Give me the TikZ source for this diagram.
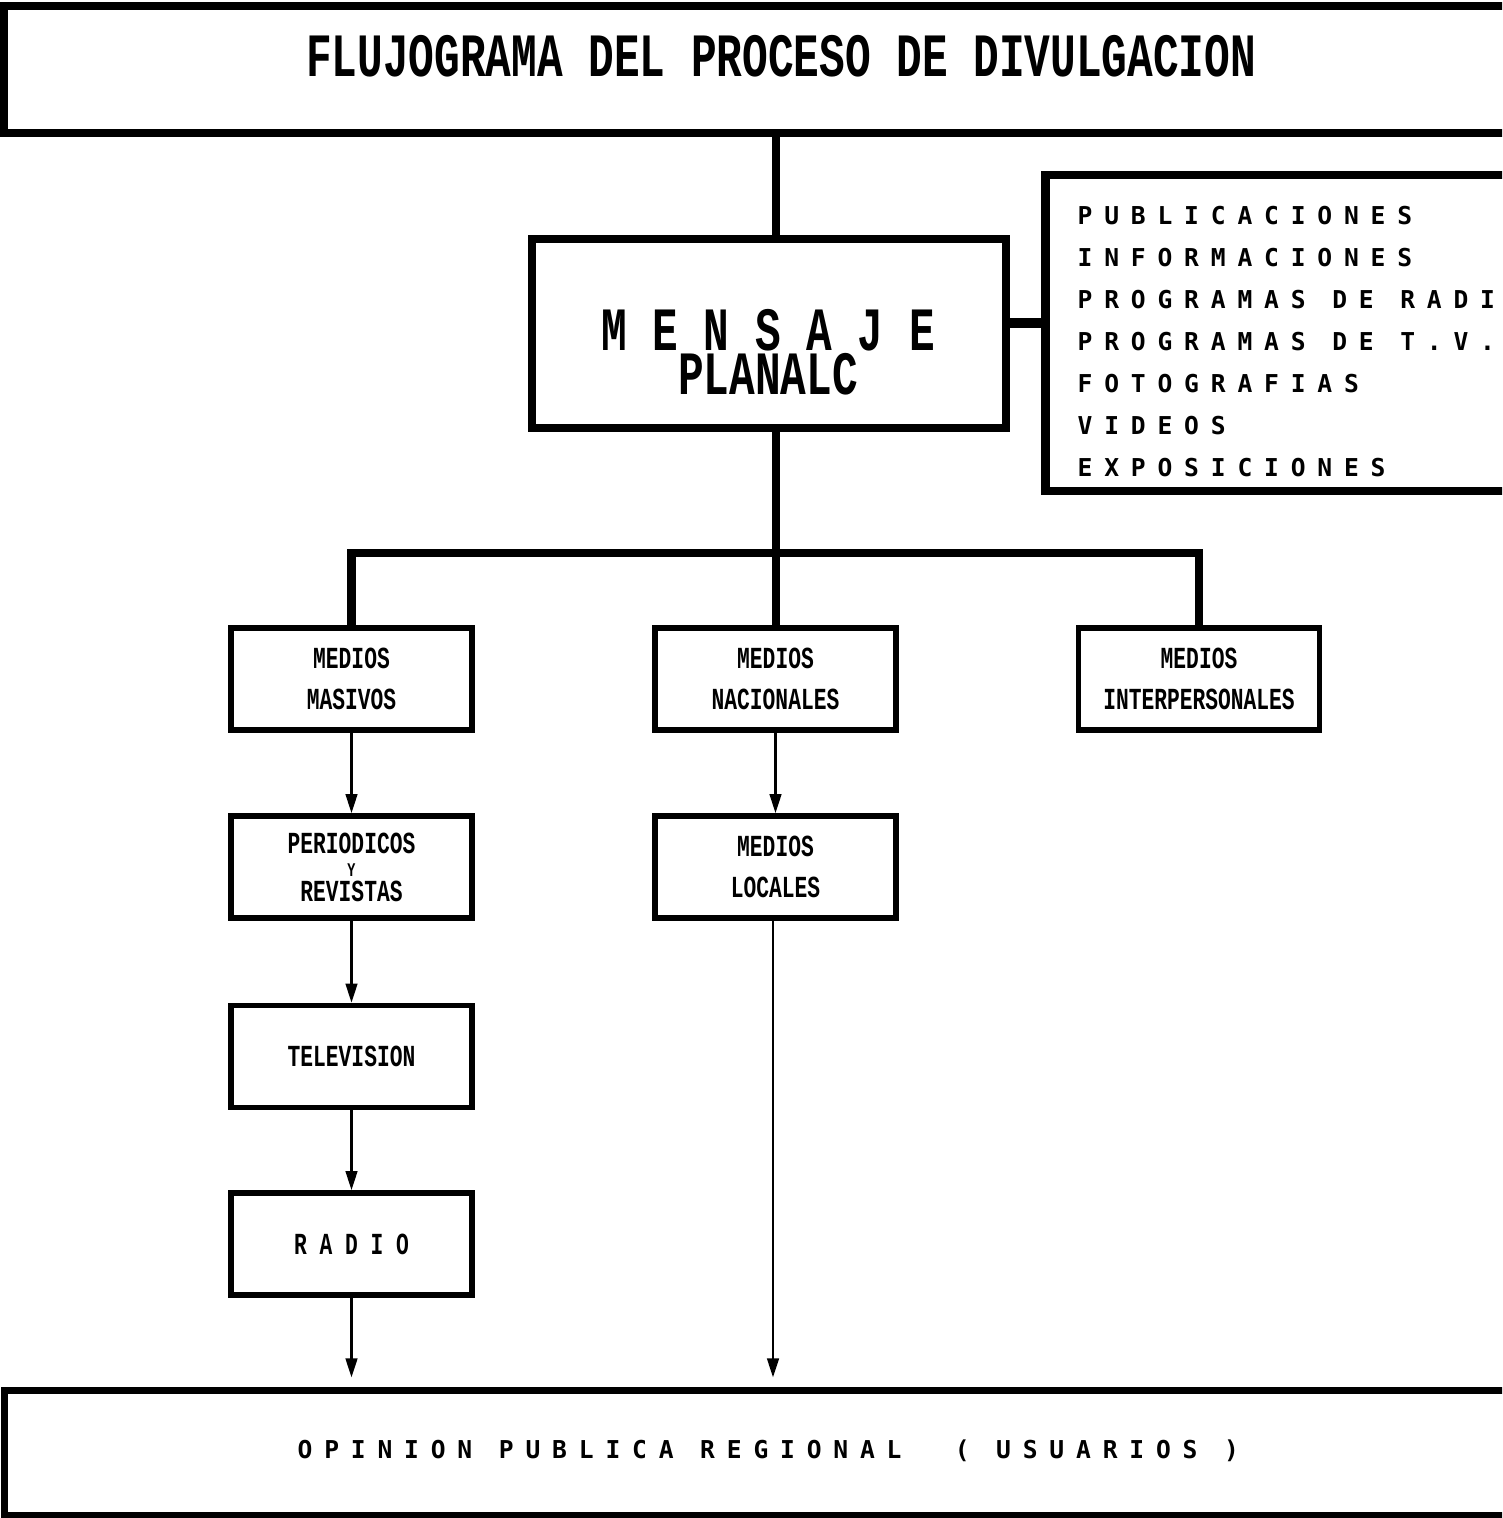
\documentclass[tikz,border=0pt]{standalone}
\usepackage{fontspec}
\usetikzlibrary{arrows.meta,positioning}
\newfontfamily\blockfont[FakeStretch=0.695]{Liberation Mono Bold}
\newfontfamily\dotfont[LetterSpace=48]{DejaVu Sans Mono Bold}

\begin{document}
\begin{tikzpicture}[x=0.01cm,y=-0.01cm,
	marco/.style={draw,line width=2.5pt,inner sep=0pt},
	medio/.style={draw,line width=1.6pt,minimum width=2.41cm,minimum height=1.02cm,inner sep=0pt,align=center,font=\blockfont\fontsize{8.7}{11.7}\selectfont},
	trunk/.style={line width=2.3pt},
	flow/.style={line width=0.7pt,-{Triangle[length=5.4pt,width=3.3pt]}},
	titulo/.style={font=\blockfont\fontsize{17.5}{12.6}\selectfont,anchor=base,inner sep=0pt,align=center},
	punteado/.style={font=\dotfont\fontsize{7}{12}\selectfont,anchor=base west,inner sep=0pt}]
	\useasboundingbox (0,0) rectangle (1502,1518);
	\clip (0,0) rectangle (1502,1518);

	% cabecera
	\node[marco,minimum width=15.26cm,minimum height=1.27cm] (cabecera) at (767,69.5) {};
	\node[titulo] (cabeceratxt) at (781,77) {FLUJOGRAMA DEL PROCESO DE DIVULGACION};

	% mensaje y lista de productos
	\node[marco,line width=2.3pt,minimum width=4.74cm,minimum height=1.89cm] (mensaje) at (769,333.5) {};
	\node[titulo,anchor=center] (mensajetxt) at (768,352) {M E N S A J E\\PLANALC};
	\node[marco,minimum width=5.14cm,minimum height=3.16cm] (productos) at (1303,333) {};
	\foreach \t [count=\i] in {PUBLICACIONES,INFORMACIONES,PROGRAMAS DE RADI,PROGRAMAS DE T.V.,FOTOGRAFIAS,VIDEOS,EXPOSICIONES}
		\node[punteado] (producto\i) at (1077,{182+42*\i}) {\t};

	% medios
	\node[medio] (masivos) at (351.5,679) {MEDIOS\\MASIVOS};
	\node[medio] (nacionales) at (775.5,679) {MEDIOS\\NACIONALES};
	\node[medio] (interpersonales) at (1199,679) {MEDIOS\\INTERPERSONALES};
	\node[medio] (periodicos) at (351.5,867) {PERIODICOS\\[-5.2pt]{\fontsize{5.5}{6}\selectfont Y}\\[-4.6pt]REVISTAS};
	\node[medio] (locales) at (775.5,867) {MEDIOS\\LOCALES};
	\node[medio] (television) at (351.5,1056.5) {TELEVISION};
	\node[medio] (radio) at (351.5,1244) {R A D I O};

	% opinion publica
	\node[marco,line width=2pt,minimum width=15.25cm,minimum height=1.24cm] (opinion) at (767.5,1453) {};
	\node[punteado] (opiniontxt) at (297,1458) {OPINION PUBLICA REGIONAL\ \ (\ USUARIOS\ )};

	% conexiones
	\coordinate (barra) at (776,553);
	\draw[trunk] (cabecera.south -| barra) -- (mensaje.north -| barra);
	\draw[trunk] (mensaje.south -| barra) -- (nacionales.north -| barra);
	\draw[trunk] (masivos.north) |- (barra) -| (interpersonales.north);
	\draw[trunk,line width=2.8pt] ([yshift=0.105cm]mensaje.east) -- ([yshift=0.105cm]mensaje.east -| productos.west);

	\draw[flow] (masivos) -- (periodicos);
	\draw[flow] (periodicos) -- (television);
	\draw[flow] (television) -- (radio);
	\draw[flow] (nacionales.south -| locales.north) -- (locales);
	\draw[flow] (radio.south) -- ([yshift=0.1cm]radio.south |- opinion.north);
	\draw[flow] ([xshift=-0.025cm]locales.south) -- ([xshift=-0.025cm,yshift=0.1cm]locales.south |- opinion.north);
\end{tikzpicture}
\end{document}
